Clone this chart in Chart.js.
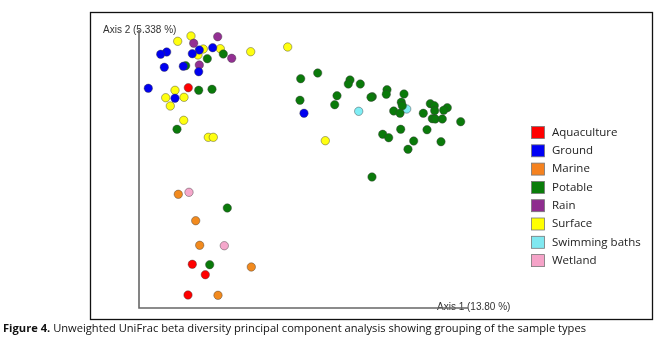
<!DOCTYPE html>
<html lang="en">
<head>
<meta charset="utf-8">
<style>
  html, body { margin: 0; padding: 0; background: #fff; }
  #wrap { width: 662px; height: 345px; }
</style>
</head>
<body>
<div id="wrap"><canvas id="myChart" width="662" height="345"></canvas></div>
<script src="https://cdn.jsdelivr.net/npm/chart.js"></script>
<script>
// PCoA coordinates (arbitrary units, axis 1 / axis 2)
const aquaculture = [[49.3, 220.3], [53.3, 43.7], [66.3, 33.3], [49, 13]];
const ground = [[60.3, 258], [73.7, 260.3], [53.3, 254.3], [27.7, 256], [21.7, 253.7], [25.3, 240.7],
  [44.3, 241.7], [59.7, 236.3], [9.3, 219.7], [36, 209.7], [165, 194.7]];
const marine = [[39.3, 113.7], [56.7, 87.3], [60.7, 62.7], [112.3, 41], [79, 12.7]];
const potable = [[84.3, 254], [68.3, 249.3], [46.7, 242.3], [59.7, 217.7], [73, 218.7], [38, 178.7],
  [88.3, 100], [70.7, 43.3], [161.7, 229.3], [178.7, 235], [211, 228], [209.3, 224], [221.3, 224],
  [161, 207.7], [198, 212.3], [195.7, 203.3], [233.3, 211.3], [232, 210.7], [248, 218.3], [247.3, 213.7],
  [265, 214], [262.3, 205.7], [263.3, 202.3], [254.7, 197], [261, 194.7], [291.3, 204.3], [295.3, 202.3],
  [295.7, 197.3], [308.3, 200.3], [304.7, 197.7], [284.3, 194.7], [293.3, 189.3], [296.3, 189],
  [303.3, 189], [321.7, 186.3], [261.7, 178.7], [288, 178.3], [243.7, 173.7], [249.7, 170.3],
  [274.7, 167], [302, 166.3], [269, 158.7], [233, 131]];
const rain = [[78.7, 271.3], [54.7, 264.7], [92.7, 249.7], [60.3, 243]];
const surface = [[52, 272], [38.7, 266.7], [64.3, 259], [81.3, 259.3], [59, 253], [111.7, 256.3],
  [148.7, 261], [36, 217.7], [26.7, 210.3], [45, 210.7], [31.3, 202], [44.7, 187.7], [69.3, 170.7],
  [74.3, 170.7], [186.3, 167.3]];
const swimming = [[219.7, 196.7], [267.7, 199]];
const wetland = [[50, 115.7], [85.3, 62.3]];

const groupNames = ['Aquaculture', 'Ground', 'Marine', 'Potable', 'Rain', 'Surface', 'Swimming baths', 'Wetland'];
const groupData = [aquaculture, ground, marine, potable, rain, surface, swimming, wetland];
const groupColors = ['#ff0000', '#0000f5', '#f5821f', '#0a7d0a', '#8e2d8e', '#ffff00', '#80e8f0', '#f5a3c8'];
const pointColors = ['#ff0000', '#0000f0', '#f28a1e', '#0a7a0a', '#932f93', '#ffff10', '#80eef5', '#f5a8cc'];

const axis1Label = 'Axis 1 (13.80 %)';
const axis2Label = 'Axis 2 (5.338 %)';
const captionBold = 'Figure 4.';
const captionText = ' Unweighted UniFrac beta diversity principal component analysis showing grouping of the sample types';

const datasets = groupData.map((rows, i) => ({
  label: groupNames[i],
  data: rows.map(r => ({ x: r[0], y: r[1] })),
  backgroundColor: pointColors[i],
  borderColor: 'rgba(60,60,60,0.55)',
  borderWidth: 0.8,
  pointRadius: 4.2,
  pointHoverRadius: 4.2
}));

// frame, axes lines, labels, legend and caption
const decor = {
  id: 'decor',
  beforeDraw(chart) {
    const ctx = chart.ctx;
    ctx.save();
    ctx.fillStyle = '#fff';
    ctx.fillRect(0, 0, chart.width, chart.height);
    ctx.restore();
  },
  beforeDatasetsDraw(chart) {
    const ctx = chart.ctx;
    const xs = chart.scales.x, ys = chart.scales.y;
    const x0 = xs.getPixelForValue(xs.min), x1 = xs.getPixelForValue(xs.max);
    const y0 = ys.getPixelForValue(ys.min), y1 = ys.getPixelForValue(ys.max);
    ctx.save();
    // outer frame
    ctx.strokeStyle = '#111';
    ctx.lineWidth = 1.3;
    ctx.strokeRect(90.5, 12.5, 562, 307);
    // axis labels
    ctx.fillStyle = '#333';
    ctx.font = '10px "Liberation Sans", Arial, sans-serif';
    ctx.textBaseline = 'middle';
    ctx.textAlign = 'left';
    ctx.fillText(axis2Label, 103, y1);
    ctx.fillText(axis1Label, 437, y0 - 1);
    // axis lines
    ctx.strokeStyle = '#666';
    ctx.lineWidth = 1.6;
    ctx.beginPath();
    ctx.moveTo(x0, y1);
    ctx.lineTo(x0, y0);
    ctx.lineTo(x1, y0);
    ctx.stroke();
    // legend
    ctx.font = '11.5px "Open Sans", sans-serif';
    ctx.fillStyle = '#222';
    groupNames.forEach((name, i) => {
      const cy = 132.5 + i * 18.3;
      ctx.fillStyle = groupColors[i];
      ctx.fillRect(531.5, cy - 6, 13, 12);
      ctx.strokeStyle = '#777';
      ctx.lineWidth = 0.8;
      ctx.strokeRect(531.5, cy - 6, 13, 12);
      ctx.fillStyle = '#222';
      ctx.fillText(name, 552, cy);
    });
    // caption
    ctx.font = 'bold 11px "Open Sans", sans-serif';
    const wb = ctx.measureText(captionBold).width;
    ctx.font = '11px "Open Sans", sans-serif';
    const wt = ctx.measureText(captionText).width;
    const sx = 583 / (wb + wt);
    ctx.translate(3, 329);
    ctx.scale(sx, 1);
    ctx.fillStyle = '#111';
    ctx.font = 'bold 11px "Open Sans", sans-serif';
    ctx.fillText(captionBold, 0, 0);
    ctx.font = '11px "Open Sans", sans-serif';
    ctx.fillText(captionText, wb, 0);
    ctx.restore();
  }
};

new Chart(document.getElementById('myChart'), {
  type: 'scatter',
  data: { datasets: datasets },
  options: {
    responsive: false,
    animation: false,
    devicePixelRatio: 1,
    layout: { padding: { left: 139, right: 194, top: 30, bottom: 37 } },
    scales: {
      x: { type: 'linear', display: false, min: 0, max: 329 },
      y: { type: 'linear', display: false, min: 0, max: 278 }
    },
    plugins: {
      legend: { display: false },
      tooltip: { enabled: false }
    }
  },
  plugins: [decor]
});
</script>
</body>
</html>
